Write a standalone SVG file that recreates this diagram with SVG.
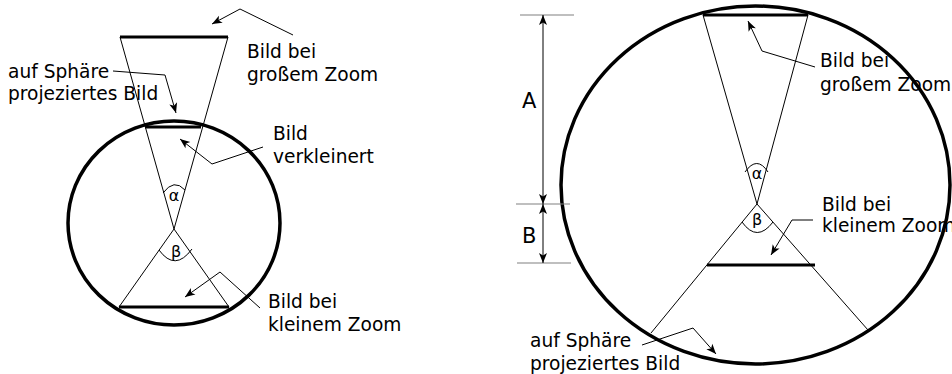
<svg xmlns="http://www.w3.org/2000/svg" width="952" height="374" viewBox="0 0 952 374">
<style>
.t{font-family:"DejaVu Sans",sans-serif;font-size:18.6px;fill:#000}
.g{font-family:"DejaVu Sans",sans-serif;font-size:16px;fill:#000;text-anchor:middle}
.L{font-family:"DejaVu Sans",sans-serif;font-size:21px;fill:#000}
.sph{fill:none;stroke:#000;stroke-width:3.5}
.img{stroke:#000;stroke-width:3;fill:none}
.ray{stroke:#000;stroke-width:1;fill:none}
.arc{stroke:#000;stroke-width:1;fill:none}
.ptr{stroke:#000;stroke-width:1;fill:none;marker-end:url(#ah)}
.tick{stroke:#808080;stroke-width:1.2}
.dim{stroke:#000;stroke-width:1;fill:none;marker-start:url(#ah2);marker-end:url(#ah)}
</style>
<defs>
<marker id="ah" markerUnits="userSpaceOnUse" markerWidth="14" markerHeight="10" viewBox="-11 -5 12 10" refX="0" refY="0" orient="auto">
<path d="M0,0 L-10,-4 L-7.5,0 L-10,4 Z" fill="#000"/>
</marker>
<marker id="ah2" markerUnits="userSpaceOnUse" markerWidth="14" markerHeight="10" viewBox="-11 -5 12 10" refX="0" refY="0" orient="auto-start-reverse">
<path d="M0,0 L-10,-4 L-7.5,0 L-10,4 Z" fill="#000"/>
</marker>
</defs>

<g id="left-sphere"><ellipse class="sph" cx="174" cy="223" rx="106" ry="102"/></g>
<g id="left-big-image"><line class="img" x1="120" y1="37" x2="228" y2="37"/></g>
<g id="left-reduced-image"><line class="img" x1="145" y1="127" x2="201" y2="127" stroke-width="2.2"/></g>
<g id="left-small-image"><line class="img" x1="119" y1="307" x2="229" y2="307"/></g>
<g id="left-rays">
<path class="ray" d="M120,37 L174,229 L228,37"/>
<path class="ray" d="M119,307 L174,229 L229,307"/>
</g>
<g id="left-alpha"><path class="arc" d="M163,193 Q174,178 185,190"/><text class="g" x="174" y="201">α</text></g>
<g id="left-beta"><path class="arc" d="M159,250 Q175,272 192,249"/><text class="g" x="176" y="257">β</text></g>

<g id="right-sphere"><ellipse class="sph" cx="755.5" cy="185" rx="194.5" ry="179"/></g>
<g id="right-big-image"><line class="img" x1="703" y1="15" x2="808" y2="15"/></g>
<g id="right-small-image"><line class="img" x1="707" y1="265" x2="815" y2="265"/></g>
<g id="right-rays">
<path class="ray" d="M703,15 L757,204 L808,15"/>
<path class="ray" d="M651,333 L757,204 L868,330"/>
</g>
<g id="right-alpha"><path class="arc" d="M745,172 Q757,155 768,172"/><text class="g" x="757" y="179">α</text></g>
<g id="right-beta"><path class="arc" d="M742,222 Q757,243 773,222"/><text class="g" x="757" y="225">β</text></g>

<g id="dimensions">
<line class="tick" x1="520" y1="15" x2="574" y2="15"/>
<line class="tick" x1="516" y1="204" x2="570" y2="204"/>
<line class="tick" x1="517" y1="263" x2="571" y2="263"/>
<line class="dim" x1="543" y1="15" x2="543" y2="204"/>
<line class="dim" x1="543" y1="204" x2="543" y2="263"/>
<text class="L" x="522" y="108">A</text>
<text class="L" x="522" y="243">B</text>
</g>

<g id="connectors">
<path class="ptr" d="M293,35 L240,9 L212,24"/>
<path class="ptr" d="M113,71 L165,75 L176,113"/>
<path class="ptr" d="M263,147 L212,164 L180,139"/>
<path class="ptr" d="M260,308 L220,272 L185,297"/>
<path class="ptr" d="M815,67 L762,51 L748,21"/>
<path class="ptr" d="M813,220 L792,220 L771,255"/>
<path class="ptr" d="M642,345 L693,328 L716,354"/>
</g>

<g id="label-left-big"><text class="t" x="247" y="58">Bild bei</text><text class="t" x="247" y="80.5">großem Zoom</text></g>
<g id="label-left-proj"><text class="t" x="8" y="77.5">auf Sphäre</text><text class="t" x="8" y="100">projeziertes Bild</text></g>
<g id="label-left-reduced"><text class="t" x="273" y="140">Bild</text><text class="t" x="273" y="162.5">verkleinert</text></g>
<g id="label-left-small"><text class="t" x="268" y="308">Bild bei</text><text class="t" x="268" y="331">kleinem Zoom</text></g>
<g id="label-right-big"><text class="t" x="820" y="66.5">Bild bei</text><text class="t" x="820" y="91">großem Zoom</text></g>
<g id="label-right-small"><text class="t" x="822" y="210.5">Bild bei</text><text class="t" x="822" y="232">kleinem Zoom</text></g>
<g id="label-right-proj"><text class="t" x="530" y="347">auf Sphäre</text><text class="t" x="530" y="370">projeziertes Bild</text></g>
</svg>
